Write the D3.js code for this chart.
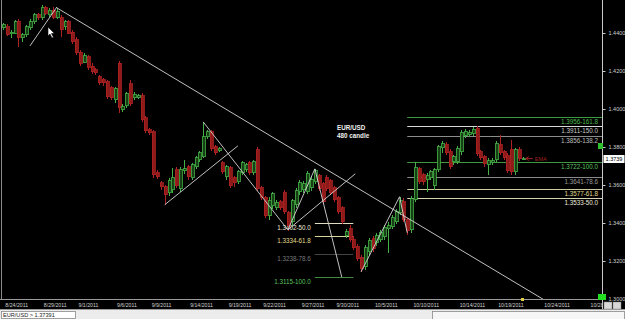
<!DOCTYPE html>
<html>
<head>
<meta charset="utf-8">
<script src="https://cdn.jsdelivr.net/npm/d3@7/dist/d3.min.js"></script>
<style>
  html, body { margin: 0; padding: 0; background: #000; overflow: hidden; }
  svg { display: block; }
  text { font-family: "Liberation Sans", Arial, sans-serif; }
</style>
</head>
<body>
<svg id="chart" width="625" height="319"></svg>
<script>
// EUR/USD, 480 minute bars, oldest first
const opens = [1.4427,1.4432,1.4395,1.4400,1.4458,1.4374,1.4390,1.4427,1.4458,1.4495,
  1.4479,1.4532,1.4495,1.4521,1.4484,1.4479,1.4432,1.4458,1.4405,1.4364,
  1.4300,1.4247,1.4274,1.4226,1.4206,1.4169,1.4153,1.4143,1.4111,1.4048,
  1.4242,1.3995,1.4016,1.4132,1.4058,1.4058,1.4069,1.3953,1.3890,1.3880,
  1.3664,1.3611,1.3590,1.3559,1.3575,1.3680,1.3580,1.3675,1.3696,1.3638,
  1.3696,1.3732,1.3748,1.3853,1.3880,1.3801,1.3780,1.3717,1.3643,1.3690,
  1.3638,1.3617,1.3664,1.3680,1.3717,1.3664,1.3785,1.3585,1.3532,1.3438,
  1.3490,1.3480,1.3512,1.3559,1.3454,1.3406,1.3496,1.3564,1.3575,1.3564,
  1.3585,1.3617,1.3648,1.3606,1.3638,1.3622,1.3585,1.3532,1.3480,1.3333,
  1.3370,1.3312,1.3275,1.3217,1.3170,1.3249,1.3317,1.3296,1.3312,1.3328,
  1.3370,1.3380,1.3406,1.3454,1.3512,1.3417,1.3364,1.3522,1.3685,1.3653,
  1.3627,1.3638,1.3596,1.3680,1.3796,1.3811,1.3774,1.3722,1.3722,1.3774,
  1.3859,1.3864,1.3869,1.3895,1.3774,1.3748,1.3706,1.3717,1.3732,1.3811,
  1.3774,1.3753,1.3785,1.3669,1.3785,1.3737];
const highs = [1.4453,1.4448,1.4416,1.4469,1.4474,1.4400,1.4443,1.4474,1.4505,1.4505,
  1.4548,1.4542,1.4532,1.4537,1.4532,1.4495,1.4469,1.4469,1.4416,1.4379,
  1.4311,1.4295,1.4285,1.4242,1.4216,1.4180,1.4164,1.4153,1.4122,1.4116,
  1.4253,1.4027,1.4090,1.4153,1.4090,1.4080,1.4085,1.3964,1.3901,1.3890,
  1.3680,1.3622,1.3601,1.3638,1.3690,1.3696,1.3696,1.3732,1.3706,1.3717,
  1.3753,1.3780,1.3932,1.3890,1.3890,1.3811,1.3801,1.3727,1.3706,1.3701,
  1.3648,1.3680,1.3727,1.3717,1.3727,1.3732,1.3801,1.3596,1.3543,1.3538,
  1.3564,1.3522,1.3522,1.3575,1.3464,1.3527,1.3585,1.3627,1.3622,1.3675,
  1.3648,1.3685,1.3659,1.3617,1.3653,1.3632,1.3596,1.3543,1.3490,1.3370,
  1.3391,1.3333,1.3291,1.3233,1.3285,1.3322,1.3333,1.3348,1.3364,1.3391,
  1.3406,1.3443,1.3475,1.3538,1.3532,1.3427,1.3543,1.3722,1.3696,1.3664,
  1.3664,1.3680,1.3690,1.3811,1.3832,1.3827,1.3790,1.3759,1.3806,1.3890,
  1.3895,1.3890,1.3906,1.3911,1.3785,1.3759,1.3743,1.3743,1.3832,1.3864,
  1.3785,1.3769,1.3837,1.3796,1.3801,1.3748];
const lows = [1.4416,1.4384,1.4374,1.4395,1.4327,1.4353,1.4379,1.4416,1.4448,1.4469,
  1.4469,1.4495,1.4484,1.4474,1.4474,1.4379,1.4416,1.4395,1.4343,1.4285,
  1.4226,1.4242,1.4206,1.4185,1.4180,1.4127,1.4122,1.4053,1.4048,1.4032,
  1.3979,1.3985,1.4006,1.4016,1.4048,1.4053,1.3932,1.3874,1.3864,1.3638,
  1.3632,1.3575,1.3496,1.3543,1.3559,1.3585,1.3564,1.3659,1.3627,1.3627,
  1.3685,1.3722,1.3743,1.3843,1.3780,1.3759,1.3774,1.3659,1.3627,1.3585,
  1.3590,1.3606,1.3653,1.3669,1.3653,1.3653,1.3569,1.3522,1.3427,1.3417,
  1.3475,1.3469,1.3469,1.3448,1.3359,1.3385,1.3480,1.3548,1.3559,1.3554,
  1.3569,1.3606,1.3569,1.3501,1.3569,1.3548,1.3512,1.3448,1.3396,1.3322,
  1.3301,1.3259,1.3201,1.3143,1.3154,1.3233,1.3249,1.3280,1.3301,1.3312,
  1.3243,1.3370,1.3396,1.3443,1.3406,1.3338,1.3348,1.3512,1.3606,1.3601,
  1.3564,1.3627,1.3575,1.3669,1.3769,1.3759,1.3685,1.3706,1.3711,1.3759,
  1.3848,1.3853,1.3859,1.3753,1.3732,1.3696,1.3653,1.3706,1.3722,1.3759,
  1.3732,1.3664,1.3653,1.3653,1.3727,1.3732];
const closes = [1.4443,1.4390,1.4405,1.4458,1.4374,1.4390,1.4432,1.4458,1.4495,1.4479,
  1.4532,1.4505,1.4521,1.4484,1.4511,1.4416,1.4458,1.4400,1.4353,1.4295,
  1.4242,1.4279,1.4221,1.4195,1.4190,1.4137,1.4137,1.4064,1.4058,1.4106,
  1.4006,1.4011,1.4080,1.4027,1.4074,1.4069,1.3943,1.3885,1.3874,1.3653,
  1.3643,1.3590,1.3548,1.3622,1.3638,1.3596,1.3680,1.3685,1.3643,1.3706,
  1.3743,1.3769,1.3853,1.3880,1.3790,1.3769,1.3790,1.3669,1.3696,1.3596,
  1.3611,1.3669,1.3717,1.3706,1.3664,1.3722,1.3580,1.3532,1.3438,1.3517,
  1.3554,1.3506,1.3480,1.3459,1.3385,1.3517,1.3569,1.3611,1.3606,1.3659,
  1.3627,1.3675,1.3580,1.3512,1.3580,1.3559,1.3522,1.3459,1.3406,1.3354,
  1.3312,1.3270,1.3212,1.3159,1.3270,1.3307,1.3264,1.3333,1.3348,1.3375,
  1.3385,1.3427,1.3459,1.3517,1.3417,1.3359,1.3527,1.3690,1.3617,1.3617,
  1.3648,1.3669,1.3680,1.3801,1.3817,1.3769,1.3696,1.3748,1.3790,1.3874,
  1.3880,1.3874,1.3890,1.3764,1.3743,1.3711,1.3727,1.3727,1.3817,1.3769,
  1.3743,1.3675,1.3669,1.3785,1.3737,1.3739];

// date labels and the bar where each date starts
const dateLabels = ['8/24/2011','8/29/2011','9/1/2011','9/6/2011','9/9/2011','9/14/2011',
  '9/19/2011','9/22/2011','9/27/2011','9/30/2011','10/5/2011','10/10/2011',
  '10/14/2011','10/19/2011','10/24/2011','10/28/2011'];
const dateBars = [1, 11, 20, 30, 39, 49, 59, 68, 78, 87, 97, 107, 119, 129, 141, 153];

const priceTicks = [1.30, 1.32, 1.34, 1.36, 1.38, 1.40, 1.42, 1.44];
const lastPrice = 1.3739;

// fibonacci levels
const fibUpLevels = [1.3956, 1.3911, 1.3856];
const fibUpNames = ['1.3956-161.8', '1.3911-150.0', '1.3856-138.2'];
const fibRightLevels = [1.3722, 1.3641, 1.3577, 1.3533];
const fibRightNames = ['1.3722-100.0', '1.3641-78.6', '1.3577-61.8', '1.3533-50.0'];
const fibLeftLevels = [1.3402, 1.3334, 1.3238, 1.3115];
const fibLeftNames = ['1.3402-50.0', '1.3334-61.8', '1.3238-78.6', '1.3115-100.0'];
const fibRightStart = 105, fibLeftStart = 81, fibLeftEnd = 91;

// hand drawn trendlines: [bar1, price1, bar2, price2]
const trendLines = [
  [14, 1.4532, 141, 1.2990],
  [7, 1.4332, 14, 1.4537],
  [42, 1.3496, 61, 1.3806],
  [52, 1.3932, 74, 1.3364],
  [74, 1.3364, 81, 1.3685],
  [81, 1.3685, 88, 1.3115],
  [74, 1.3364, 91.5, 1.3659],
  [93, 1.3143, 103, 1.3538],
  [103, 1.3538, 105, 1.3348]
];

const W = 625, H = 319;
const plotR = 602, plotB = 299;
const svg = d3.select('#chart');

svg.append('rect').attr('width', W).attr('height', H).attr('fill', '#000');

const x = d3.scaleLinear().domain([0, 136]).range([3, 526.6]);
const y = d3.scaleLinear().domain([1.30, 1.44]).range([299, 33]);

svg.append('clipPath').attr('id', 'plotclip')
  .append('rect').attr('x', 0).attr('y', 0).attr('width', plotR).attr('height', plotB);

const plot = svg.append('g').attr('clip-path', 'url(#plotclip)');

// fib lines
function fibs(levels, names, x1, x2, lineCols, textCols, textX, anchor) {
  levels.forEach(function(v, i) {
    plot.append('line')
      .attr('x1', x1).attr('x2', x2)
      .attr('y1', Math.round(y(v)) + 0.5).attr('y2', Math.round(y(v)) + 0.5)
      .attr('stroke', lineCols[i]).attr('stroke-width', 1);
    plot.append('text')
      .attr('x', textX).attr('y', Math.round(y(v)) + 6.5)
      .attr('text-anchor', anchor)
      .attr('font-size', 6.3)
      .attr('fill', textCols[i])
      .text(names[i]);
  });
}
fibs(fibUpLevels, fibUpNames, x(fibRightStart), plotR,
  ['#3f9a3f', '#d8d8d8', '#8c8c8c'], ['#4fb84f', '#c8c8c8', '#bdbdbd'], 598, 'end');
fibs(fibRightLevels, fibRightNames, x(fibRightStart), plotR,
  ['#3f9a3f', '#8a8a8a', '#cfcaa0', '#d8d4b0'], ['#5cc05c', '#9a9a9a', '#e0dc90', '#eeeadc'], 598, 'end');
fibs(fibLeftLevels, fibLeftNames, x(fibLeftStart), x(fibLeftEnd),
  ['#e0dcc0', '#d8d49a', '#444', '#3f8a3f'], ['#eeeadc', '#e0dc90', '#7a7a7a', '#5cc05c'], x(fibLeftStart) - 4, 'end');

// candles
const bars = d3.range(opens.length).map(function(i) {
  return {i: i, o: opens[i], h: highs[i], l: lows[i], c: closes[i]};
});
const up = '#45b045', dn = '#b02222';
const cg = plot.append('g').attr('shape-rendering', 'crispEdges');
const candle = cg.selectAll('g').data(bars).enter().append('g');
candle.append('line')
  .attr('x1', d => Math.round(x(d.i)) + 0.5).attr('x2', d => Math.round(x(d.i)) + 0.5)
  .attr('y1', d => y(d.h)).attr('y2', d => y(d.l))
  .attr('stroke', d => d.c >= d.o ? up : dn);
candle.append('rect')
  .attr('x', d => Math.round(x(d.i)) - 1)
  .attr('y', d => y(Math.max(d.o, d.c)))
  .attr('width', 3)
  .attr('height', d => Math.max(1, Math.abs(y(d.o) - y(d.c))))
  .attr('fill', d => d.c >= d.o ? '#163f16' : '#8e1a1a')
  .attr('stroke', d => d.c >= d.o ? up : dn)
  .attr('stroke-width', 0.8);

// trendlines
plot.selectAll('.tl').data(trendLines).enter().append('line')
  .attr('class', 'tl')
  .attr('x1', d => x(d[0])).attr('y1', d => y(d[1]))
  .attr('x2', d => x(d[2])).attr('y2', d => y(d[3]))
  .attr('stroke', '#d6d6d6').attr('stroke-width', 0.9);

// EMA marker next to last bar
const lastY = y(lastPrice);
plot.append('line').attr('x1', x(135) + 3).attr('x2', x(135) + 10)
  .attr('y1', lastY).attr('y2', lastY).attr('stroke', '#a02020');
plot.append('path')
  .attr('d', 'M' + (x(135) + 3) + ',' + lastY + 'l3,-2M' + (x(135) + 3) + ',' + lastY + 'l3,2')
  .attr('stroke', '#a02020').attr('fill', 'none');
plot.append('text').attr('x', x(135) + 12).attr('y', lastY + 2)
  .attr('font-size', 5.5).attr('fill', '#a02020').text('EMA');

// title note
plot.append('text').attr('x', 337).attr('y', 130)
  .attr('font-size', 6.3).attr('font-weight', 'bold').attr('fill', '#f0f0f0').text('EUR/USD');
plot.append('text').attr('x', 337).attr('y', 138)
  .attr('font-size', 6.3).attr('font-weight', 'bold').attr('fill', '#f0f0f0').text('480 candle');

// mouse pointer
plot.append('path')
  .attr('d', 'M48,27 L48,36 L50,34 L52,38 L53.5,37.3 L51.5,33.5 L54.5,33.5 Z')
  .attr('fill', '#fff').attr('stroke', '#000').attr('stroke-width', 0.6);

// frame
svg.append('line').attr('x1', 1.5).attr('x2', 1.5).attr('y1', 0).attr('y2', plotB)
  .attr('stroke', '#8a8a8a');
svg.append('line').attr('x1', plotR + 0.5).attr('x2', plotR + 0.5).attr('y1', 0).attr('y2', plotB + 10)
  .attr('stroke', '#c8c8c8');
svg.append('line').attr('x1', 0).attr('x2', plotR).attr('y1', plotB + 0.5).attr('y2', plotB + 0.5)
  .attr('stroke', '#9a9a9a');

// price axis
const yAxis = d3.axisRight(y).tickValues(priceTicks).tickFormat(d3.format('.4f'))
  .tickSize(3).tickSizeOuter(0).tickPadding(3);
const ya = svg.append('g').attr('transform', 'translate(' + (plotR + 0.5) + ',0)').call(yAxis);
ya.select('.domain').remove();
ya.selectAll('line').attr('stroke', '#c8c8c8');
ya.selectAll('text').attr('fill', '#d0d0d0').attr('font-size', 5.5)
  .attr('font-family', '"Liberation Sans", Arial, sans-serif');

// last price box
svg.append('rect').attr('x', plotR + 1.5).attr('y', Math.round(lastY) - 4)
  .attr('width', 21).attr('height', 8).attr('fill', '#fff');
svg.append('text').attr('x', plotR + 12).attr('y', Math.round(lastY) + 2)
  .attr('text-anchor', 'middle').attr('font-size', 5.5).attr('fill', '#000').text('1.3739');
svg.append('rect').attr('x', 598).attr('y', 143).attr('width', 5).attr('height', 6)
  .attr('fill', '#2fbf2f');

// date axis
svg.append('clipPath').attr('id', 'dateclip')
  .append('rect').attr('x', 0).attr('y', plotB).attr('width', plotR).attr('height', 12);
svg.append('g').attr('clip-path', 'url(#dateclip)')
  .selectAll('text').data(dateLabels).enter().append('text')
  .attr('x', (d, i) => x(dateBars[i]) - 1.5)
  .attr('y', 307)
  .attr('font-size', 5.2)
  .attr('fill', '#d0d0d0')
  .text(d => d);

// small markers on the axis
svg.append('rect').attr('x', 521).attr('y', 298).attr('width', 3).attr('height', 3).attr('fill', '#e0d040');
svg.append('rect').attr('x', 598).attr('y', 294).attr('width', 8).attr('height', 6).attr('fill', '#22dd22');
svg.append('rect').attr('x', 604).attr('y', 302).attr('width', 8).attr('height', 7)
  .attr('fill', '#d8d8d8').attr('stroke', '#888').attr('stroke-width', 0.5);
svg.append('rect').attr('x', 613).attr('y', 302).attr('width', 8).attr('height', 7)
  .attr('fill', '#d8d8d8').attr('stroke', '#888').attr('stroke-width', 0.5);

// status bar
svg.append('rect').attr('x', 0).attr('y', 310).attr('width', W).attr('height', 9).attr('fill', '#ececec');
svg.append('line').attr('x1', 0).attr('x2', W).attr('y1', 309.5).attr('y2', 309.5).attr('stroke', '#9a9a9a');
svg.append('rect').attr('x', 1.5).attr('y', 311.5).attr('width', 74).attr('height', 7)
  .attr('fill', '#fff').attr('stroke', '#888').attr('stroke-width', 0.8);
svg.append('text').attr('x', 3).attr('y', 317.3).attr('font-size', 5.6).attr('fill', '#222')
  .text('EUR/USD > 1.37391');
svg.append('rect').attr('x', 432.5).attr('y', 311.5).attr('width', 192).attr('height', 8)
  .attr('fill', '#f6f6f6').attr('stroke', '#888').attr('stroke-width', 0.8);
</script>
</body>
</html>
